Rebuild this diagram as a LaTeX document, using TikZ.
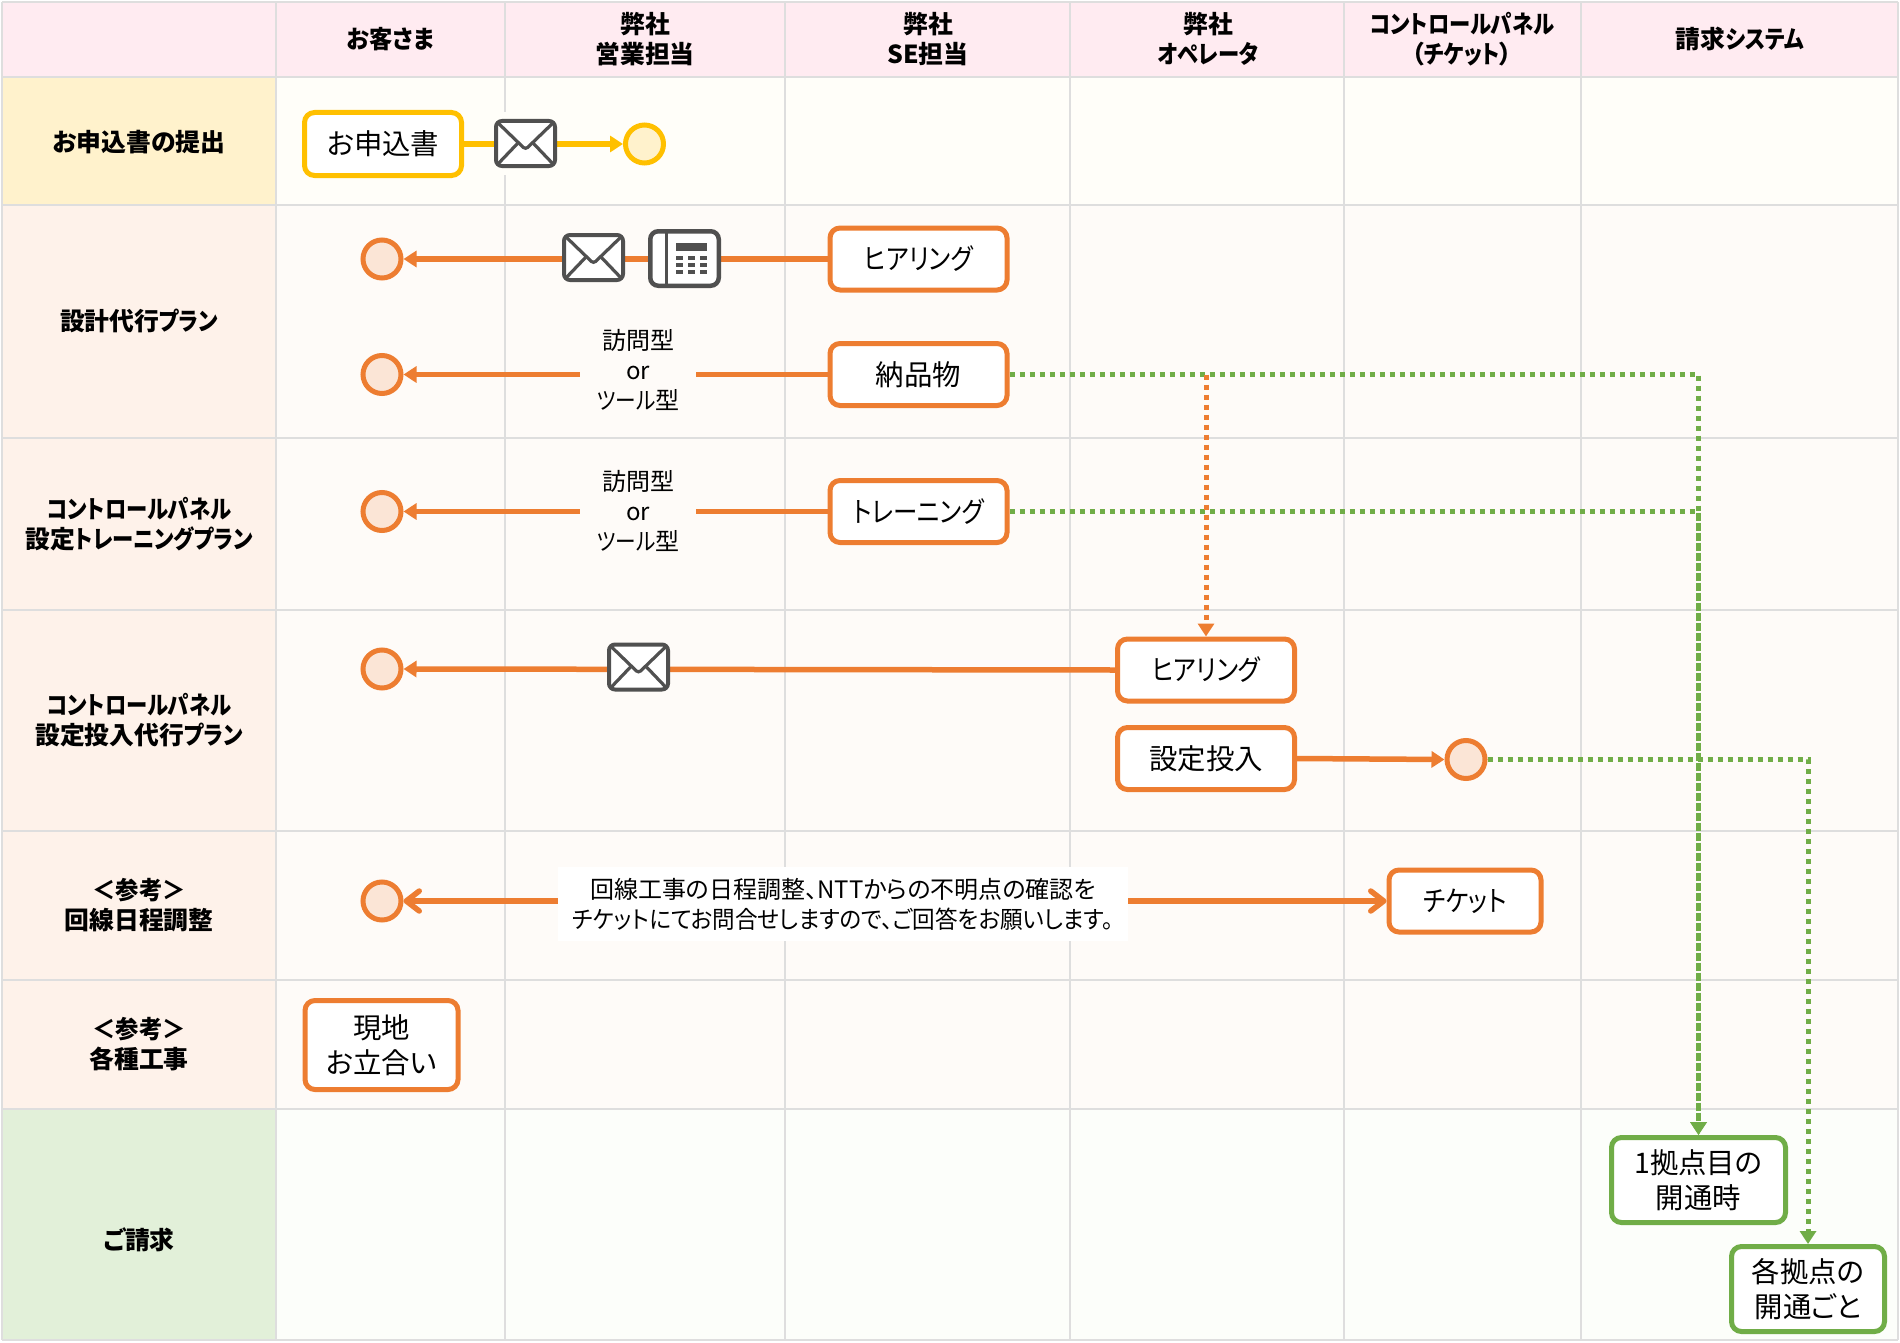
\documentclass[tikz,border=0pt]{standalone}
\usepackage{fontspec}
\setmainfont[RawFeature=+palt]{Noto Sans CJK JP}
\newfontfamily\kanafont[RawFeature=+palt,FakeStretch=0.86]{Noto Sans CJK JP}
\newfontfamily\notefont[RawFeature=+palt,FakeStretch=0.94]{Noto Sans CJK JP}
\newcommand{\kana}[1]{{\kanafont #1}}
\usetikzlibrary{%
  arrows.meta,%
  calc%
}
\definecolor{gridgray}{HTML}{DEDEDE}
\definecolor{headpink}{HTML}{FFEBF1}
\definecolor{yellowline}{HTML}{FFC000}
\definecolor{yellowfill}{HTML}{FFF2CC}
\definecolor{yellowcell}{HTML}{FFFEF9}
\definecolor{orangeline}{HTML}{ED7D31}
\definecolor{orangefill}{HTML}{FBE5D6}
\definecolor{orangehead}{HTML}{FEF2EA}
\definecolor{orangecell}{HTML}{FEFBF8}
\definecolor{greenline}{HTML}{70AD47}
\definecolor{greenhead}{HTML}{E2F0D9}
\definecolor{greencell}{HTML}{FCFEFA}
\definecolor{icongray}{HTML}{505050}
\tikzset{>={Triangle[length=6.5pt,width=8pt]}}
\tikzset{
  flowbox/.style={draw,fill=white,rounded corners=5pt,line width=2.5pt,inner sep=0pt,
    align=center,font=\fontsize{14.2}{17.5}\selectfont},
  yellowbox/.style={flowbox,draw=yellowline},
  orangebox/.style={flowbox,draw=orangeline},
  greenbox/.style={flowbox,draw=greenline},
  endpoint/.style={circle,line width=2.5pt,minimum size=19pt,inner sep=0pt},
  headtext/.style={align=center,font=\fontsize{12.4}{15}\selectfont\bfseries},
  viatext/.style={align=center,inner sep=0pt,font=\fontsize{12}{15}\selectfont},
  oline/.style={orangeline,line width=2.75pt},
  dotline/.style={line width=2.5pt,dash pattern=on 2.5pt off 2.5pt},
  openboth/.style={{Straight Barb[length=6.5pt,width=10pt,round]}-{Straight Barb[length=6.5pt,width=10pt,round]}},
  mailicon/.style={draw=icongray,fill=white,line width=2pt,rounded corners=3pt,
    minimum width=29.5pt,minimum height=22.5pt,inner sep=0pt,
    path picture={
      \draw[icongray,line width=1.6pt,rounded corners=1.5pt]
        (path picture bounding box.north west)
        -- ($(path picture bounding box.center)+(0,-3pt)$)
        -- (path picture bounding box.north east);
      \draw[icongray,line width=1.6pt,sharp corners]
        ($(path picture bounding box.center)+(-4pt,0)$) -- (path picture bounding box.south west);
      \draw[icongray,line width=1.6pt,sharp corners]
        ($(path picture bounding box.center)+(4pt,0)$) -- (path picture bounding box.south east);
    }},
  phoneicon/.style={draw=icongray,fill=white,line width=2.25pt,rounded corners=4pt,
    minimum width=34.25pt,minimum height=27.25pt,inner sep=0pt,
    path picture={
      \coordinate (pc) at (path picture bounding box.center);
      \draw[icongray,line width=1.6pt,sharp corners] ($(pc)+(-9pt,15pt)$) -- ($(pc)+(-9pt,-15pt)$);
      \fill[icongray,sharp corners] ($(pc)+(-4.2pt,8pt)$) rectangle ($(pc)+(11.2pt,4pt)$);
      \foreach \rowy in {1.4pt,-2.2pt,-5.9pt}
        \foreach \colx in {-4.2pt,1.9pt,7.9pt}
          \fill[icongray,sharp corners] ($(pc)+(\colx,\rowy)$) rectangle ($(pc)+(\colx+3.4pt,\rowy-2pt)$);
    }}
}

\begin{document}
\begin{tikzpicture}[x=0.5pt,y=-0.5pt]
  \useasboundingbox (0,0) rectangle (1900,1343);
  % cells
  \fill[headpink] (2,2) rectangle (1898,77);
  \fill[yellowcell] (276,77) rectangle (1898,205);
  \fill[orangecell] (276,205) rectangle (1898,1109);
  \fill[greencell] (276,1109) rectangle (1898,1340);
  \fill[yellowfill] (2,77) rectangle (276,205);
  \fill[orangehead] (2,205) rectangle (276,1109);
  \fill[greenhead] (2,1109) rectangle (276,1340);
  % grid
  \foreach \gx in {2,276,505,785,1070,1344,1581,1898}
    \draw[gridgray,line width=1.1pt] (\gx,2) -- (\gx,1340);
  \foreach \gy in {2,77,205,438,610,831,980,1109,1340}
    \draw[gridgray,line width=1.1pt] (2,\gy) -- (1898,\gy);
  \fill[yellowcell] (500,112) rectangle (510,175);
  % header row
  \node[headtext] (colA) at (390.5,39) {\notefont お客さま};
  \node[headtext] (colB) at (645,39) {弊社\\営業担当};
  \node[headtext] (colC) at (928,39) {弊社\\SE担当};
  \node[headtext] (colD) at (1208,39) {弊社\\\kana{オペレータ}};
  \node[headtext] (colE) at (1462,39) {\kana{コントロールパネル}\\（\kana{チケット}）};
  \node[headtext] (colF) at (1740,39) {請求\kana{システム}};
  % left column
  \node[headtext] (rowA) at (139,142) {お申込書の提出};
  \node[headtext] (rowB) at (139,321) {設計代行\kana{プラン}};
  \node[headtext] (rowC) at (139,524) {\kana{コントロールパネル}\\設定\kana{トレーニングプラン}};
  \node[headtext] (rowD) at (139,720) {\kana{コントロールパネル}\\設定投入代行\kana{プラン}};
  \node[headtext] (rowE) at (139,905) {{\notefont ＜参考＞}\\回線日程調整};
  \node[headtext] (rowF) at (139,1044) {{\notefont ＜参考＞}\\各種工事};
  \node[headtext] (rowG) at (139,1240) {ご請求};
  % boxes
  \node[yellowbox,minimum width=78.5pt,minimum height=31.5pt] (apply) at (383,144) {お申込書};
  \node[orangebox,minimum width=88.5pt,minimum height=31pt] (hearA) at (918.5,259) {\kana{ヒアリング}};
  \node[orangebox,minimum width=88.5pt,minimum height=31pt] (goods) at (918.5,374.5) {納品物};
  \node[orangebox,minimum width=88.5pt,minimum height=31pt] (train) at (918.5,511.5) {\kana{トレーニング}};
  \node[orangebox,minimum width=88.5pt,minimum height=31pt] (hearB) at (1206,670) {\kana{ヒアリング}};
  \node[orangebox,minimum width=88.5pt,minimum height=31pt] (setup) at (1206,758.5) {設定投入};
  \node[orangebox,minimum width=76pt,minimum height=31pt] (ticket) at (1465,901) {\kana{チケット}};
  \node[orangebox,minimum width=76.5pt,minimum height=44.5pt] (site) at (381.5,1045) {現地\\お立合い};
  \node[greenbox,minimum width=87pt,minimum height=42.5pt] (first) at (1698.5,1180) {1拠点目の\\開通時};
  \node[greenbox,minimum width=76.5pt,minimum height=42.5pt] (each) at (1808,1289) {各拠点の\\開通ごと};
  % end points
  \node[endpoint,draw=yellowline,fill=yellowfill] (endA) at (644.5,144) {};
  \node[endpoint,draw=orangeline,fill=orangefill] (endB) at (382,259) {};
  \node[endpoint,draw=orangeline,fill=orangefill] (endC) at (382,374.5) {};
  \node[endpoint,draw=orangeline,fill=orangefill] (endD) at (382,511.5) {};
  \node[endpoint,draw=orangeline,fill=orangefill] (endE) at (382,669) {};
  \node[endpoint,draw=orangeline,fill=orangefill] (endF) at (1466,759.5) {};
  \node[endpoint,draw=orangeline,fill=orangefill] (endG) at (382,901) {};
  % dotted lines
  \coordinate (turnA) at (first.north |- goods.east);
  \coordinate (turnB) at (first.north |- train.east);
  \coordinate (turnC) at (each.north |- endF.east);
  \coordinate (dropA) at (hearB.north |- goods.east);
  \draw[dotline,greenline,->] (goods.east) -- (turnA) -- (first.north);
  \draw[dotline,greenline,->] (train.east) -- (turnB) -- (first.north);
  \draw[dotline,greenline,->] (endF.east) -- (turnC) -- (each.north);
  \draw[dotline,orangeline,->] (dropA) -- (hearB.north);
  % solid lines
  \draw[yellowline,line width=2.75pt,->] (apply.east) -- (endA.west);
  \draw[oline,->] (hearA.west) -- (endB.east);
  \draw[oline,->] (goods.west) -- (endC.east);
  \draw[oline,->] (train.west) -- (endD.east);
  \draw[oline,->] (hearB.west) -- (endE.east);
  \draw[oline,->] (setup.east) -- (endF.west);
  \draw[oline,openboth] (endG.east) -- (ticket.west);
  % icons and texts on the lines
  \node[mailicon] (mailA) at (525.5,143.5) {};
  \node[mailicon] (mailB) at (593.5,257.5) {};
  \node[phoneicon] (phone) at (684.5,258.5) {};
  \node[mailicon] (mailC) at (638.5,667) {};
  \node[viatext,fill=orangecell,minimum width=58pt] (viaA) at (638,370) {訪問型\\or\\\kana{ツール}型};
  \node[viatext,fill=orangecell,minimum width=58pt] (viaB) at (638,511) {訪問型\\or\\\kana{ツール}型};
  \node[viatext,fill=white,minimum width=285pt,minimum height=37pt] (note) at (843,904)
    {回線工事の日程調整、NTTからの不明点の確認を\\{\notefont チケットにてお問合せしますので、ご回答をお願いします。}};
\end{tikzpicture}
\end{document}
